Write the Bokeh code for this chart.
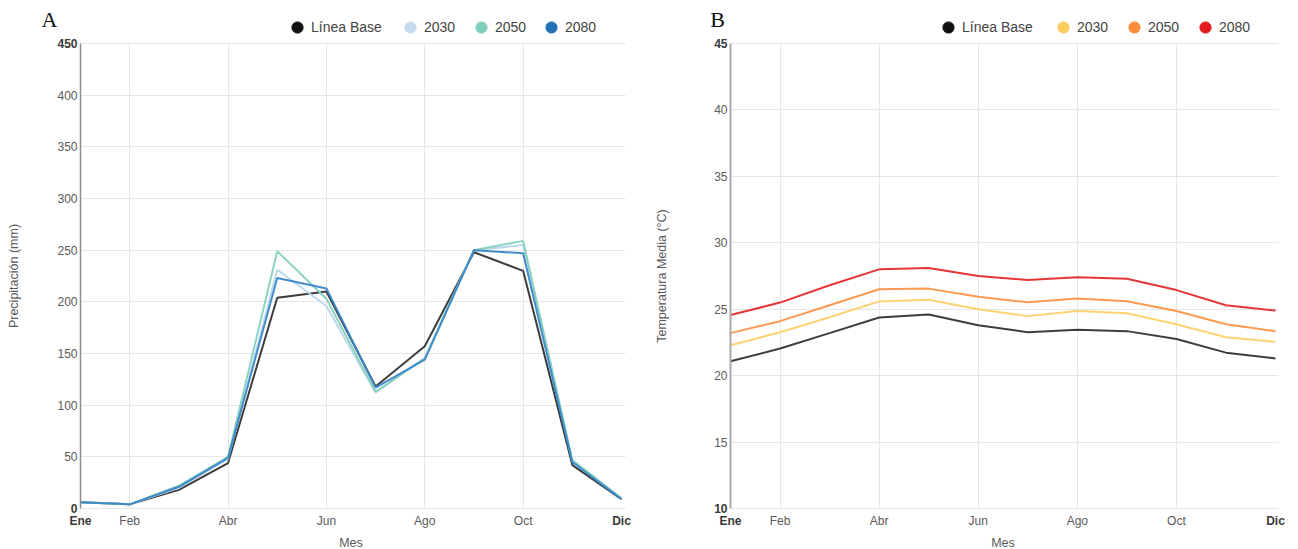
import numpy as np
from bokeh.plotting import figure
from bokeh.layouts import row
from bokeh.models import Legend, LegendItem, Label, FixedTicker, Range1d
from bokeh.embed import file_html
from bokeh.resources import INLINE

# ---------------- data ----------------
month_num = [1, 2, 3, 4, 5, 6, 7, 8, 9, 10, 11, 12]
tick_months = [1, 2, 4, 6, 8, 10, 12]
tick_month_labels = ["Ene", "Feb", "Abr", "Jun", "Ago", "Oct", "Dic"]

series_names = ["Línea Base", "2030", "2050", "2080"]

precip_base = [6, 4, 18, 44, 204, 210, 118, 157, 248, 230, 42, 9]
precip_2030 = [6, 4, 20, 48, 231, 196, 112, 146, 250, 255, 46, 10]
precip_2050 = [6, 4, 22, 50, 249, 203, 113, 145, 250, 259, 47, 10]
precip_2080 = [6, 4, 21, 49, 223, 213, 117, 144, 250, 247, 45, 9]

temp_base = [21.08, 22.04, 23.2, 24.38, 24.6, 23.79, 23.27, 23.45, 23.35, 22.76, 21.73, 21.29]
temp_2030 = [22.29, 23.27, 24.4, 25.59, 25.72, 25.0, 24.48, 24.87, 24.69, 23.87, 22.89, 22.55]
temp_2050 = [23.2, 24.1, 25.3, 26.5, 26.55, 25.93, 25.52, 25.8, 25.6, 24.87, 23.87, 23.35]
temp_2080 = [24.56, 25.5, 26.8, 28.0, 28.1, 27.5, 27.2, 27.4, 27.3, 26.44, 25.3, 24.9]

precip_ticks = [0, 50, 100, 150, 200, 250, 300, 350, 400, 450]
temp_ticks = [10, 15, 20, 25, 30, 35, 40, 45]

line_colors_a = ["#333333", "#bcd6ec", "#86d0c0", "#3a87c8"]
legend_colors_a = ["#111111", "#c6dbef", "#7fcdbb", "#2171b5"]
line_colors_b = ["#333333", "#fecf6a", "#fd9447", "#e52a2c"]
legend_colors_b = ["#111111", "#fecc5c", "#fd8d3c", "#e31a1c"]

FONT = "Liberation Sans"
TICK_FS = "12px"
AXIS_FS = "12.5px"
CANVAS_H = 548
TOP_PX = 43      # pixel row of the top tick
BOTTOM_PX = 508  # pixel row of the bottom tick
GLYPH = 28


def build(values, line_colors, legend_colors, yticks, ylabel, letter,
          canvas_w, left_px, right_px, ylab_standoff, legend_centers,
          letter_px, axis_w, axis_color, grid_end):
    ylo, yhi = yticks[0], yticks[-1]
    xs = (right_px - left_px) / 11.0           # px per month
    ys = (BOTTOM_PX - TOP_PX) / (yhi - ylo)    # px per y unit
    x0 = 1 - left_px / xs
    x1 = 12 + (canvas_w - right_px) / xs
    y0 = ylo - (CANVAS_H - BOTTOM_PX) / ys
    y1 = yhi + TOP_PX / ys

    def X(px):
        return x0 + px / xs

    def Y(py):
        return y1 - py / ys

    p = figure(width=canvas_w, height=CANVAS_H,
               x_range=Range1d(x0, x1), y_range=Range1d(y0, y1),
               min_border=0, output_backend="svg", toolbar_location=None)
    p.outline_line_color = None
    p.border_fill_color = "white"
    p.background_fill_color = "white"

    # grid
    p.xgrid.ticker = FixedTicker(ticks=tick_months[1:-1])
    p.ygrid.ticker = FixedTicker(ticks=yticks)
    p.xgrid.cross_bounds = (ylo, yhi)
    p.ygrid.cross_bounds = (1, grid_end)
    p.xgrid.grid_line_color = "#e6e6e6"
    p.ygrid.grid_line_color = "#e6e6e6"

    for vals, c in zip(values, line_colors):
        p.line(month_num, vals, line_color=c, line_width=2, line_alpha=0.95)

    # x axis
    xa = p.xaxis[0]
    xa.fixed_location = ylo
    xa.bounds = (1, 12)
    xa.ticker = FixedTicker(ticks=tick_months)
    ov = {m: lab for m, lab in zip(tick_months, tick_month_labels)}
    ov[tick_months[0]] = ""
    ov[tick_months[-1]] = ""
    xa.major_label_overrides = ov
    xa.axis_line_color = None
    xa.major_tick_line_color = None
    xa.minor_tick_line_color = None
    xa.major_tick_out = 0
    xa.major_tick_in = 0
    xa.major_label_standoff = 5
    xa.major_label_text_font = FONT
    xa.major_label_text_font_size = TICK_FS
    xa.major_label_text_color = "#5a5a5a"
    xa.axis_label = "Mes"
    xa.axis_label_text_font = FONT
    xa.axis_label_text_font_size = AXIS_FS
    xa.axis_label_text_font_style = "normal"
    xa.axis_label_text_color = "#5a5a5a"
    xa.axis_label_standoff = 5

    # y axis
    ya = p.yaxis[0]
    ya.fixed_location = 1
    ya.bounds = (ylo, yhi)
    ya.ticker = FixedTicker(ticks=yticks)
    yov = {t: str(t) for t in yticks}
    yov[ylo] = ""
    yov[yhi] = ""
    ya.major_label_overrides = yov
    ya.axis_line_color = axis_color
    ya.axis_line_width = axis_w
    ya.major_tick_line_color = None
    ya.minor_tick_line_color = None
    ya.major_tick_out = 0
    ya.major_tick_in = 0
    ya.major_label_standoff = 3
    ya.major_label_text_font = FONT
    ya.major_label_text_font_size = TICK_FS
    ya.major_label_text_color = "#5a5a5a"
    ya.axis_label = ylabel
    ya.axis_label_text_font = FONT
    ya.axis_label_text_font_size = AXIS_FS
    ya.axis_label_text_font_style = "normal"
    ya.axis_label_text_color = "#5a5a5a"
    ya.axis_label_standoff = ylab_standoff

    # bold end tick labels
    for m, lab in [(tick_months[0], tick_month_labels[0]), (tick_months[-1], tick_month_labels[-1])]:
        p.add_layout(Label(x=m, y=ylo - 5 / ys, text=lab, text_align="center",
                           text_baseline="top", text_font=FONT, text_font_size=TICK_FS,
                           text_font_style="bold", text_color="#3a3a3a"))
    for t in (ylo, yhi):
        p.add_layout(Label(x=1 - 3 / xs, y=t, text=str(t), text_align="right",
                           text_baseline="middle", text_font=FONT, text_font_size=TICK_FS,
                           text_font_style="bold", text_color="#3a3a3a"))

    # panel letter
    p.add_layout(Label(x=X(letter_px[0]), y=Y(letter_px[1]), text=letter,
                       text_align="center", text_baseline="middle",
                       text_font="Liberation Serif", text_font_size="22px",
                       text_color="#111111"))

    # legend: one single-item legend per series, placed above the plot area
    for name, c, cx in zip(series_names, legend_colors, legend_centers):
        r = p.scatter(x=np.array([np.nan]), y=np.array([np.nan]), size=12,
                      fill_color=c, line_color=c)
        leg = Legend(items=[LegendItem(label=name, renderers=[r])],
                     location=(cx - GLYPH // 2, CANVAS_H - TOP_PX + 2),
                     orientation="horizontal",
                     glyph_width=GLYPH, glyph_height=GLYPH, label_standoff=0,
                     padding=0, margin=0, spacing=0,
                     border_line_color=None, background_fill_alpha=0,
                     label_text_font=FONT, label_text_font_size="14px",
                     label_text_color="#444444")
        p.add_layout(leg)
    return p


pa = build([precip_base, precip_2030, precip_2050, precip_2080],
           line_colors_a, legend_colors_a, precip_ticks, "Precipitación (mm)", "A",
           canvas_w=650, left_px=80, right_px=621, ylab_standoff=33,
           legend_centers=[297, 410, 481, 551], letter_px=(49, 19),
           axis_w=1.5, axis_color="#8c8c8c", grid_end=12.08)

pb = build([temp_base, temp_2030, temp_2050, temp_2080],
           line_colors_b, legend_colors_b, temp_ticks, "Temperatura Media (°C)", "B",
           canvas_w=648, left_px=80, right_px=625, ylab_standoff=42,
           legend_centers=[298, 413, 484, 555], letter_px=(67, 19),
           axis_w=2, axis_color="#aaaaaa", grid_end=12.06)

layout = row(pa, pb, spacing=0)
open("out.html", "w").write(file_html(layout, INLINE))
